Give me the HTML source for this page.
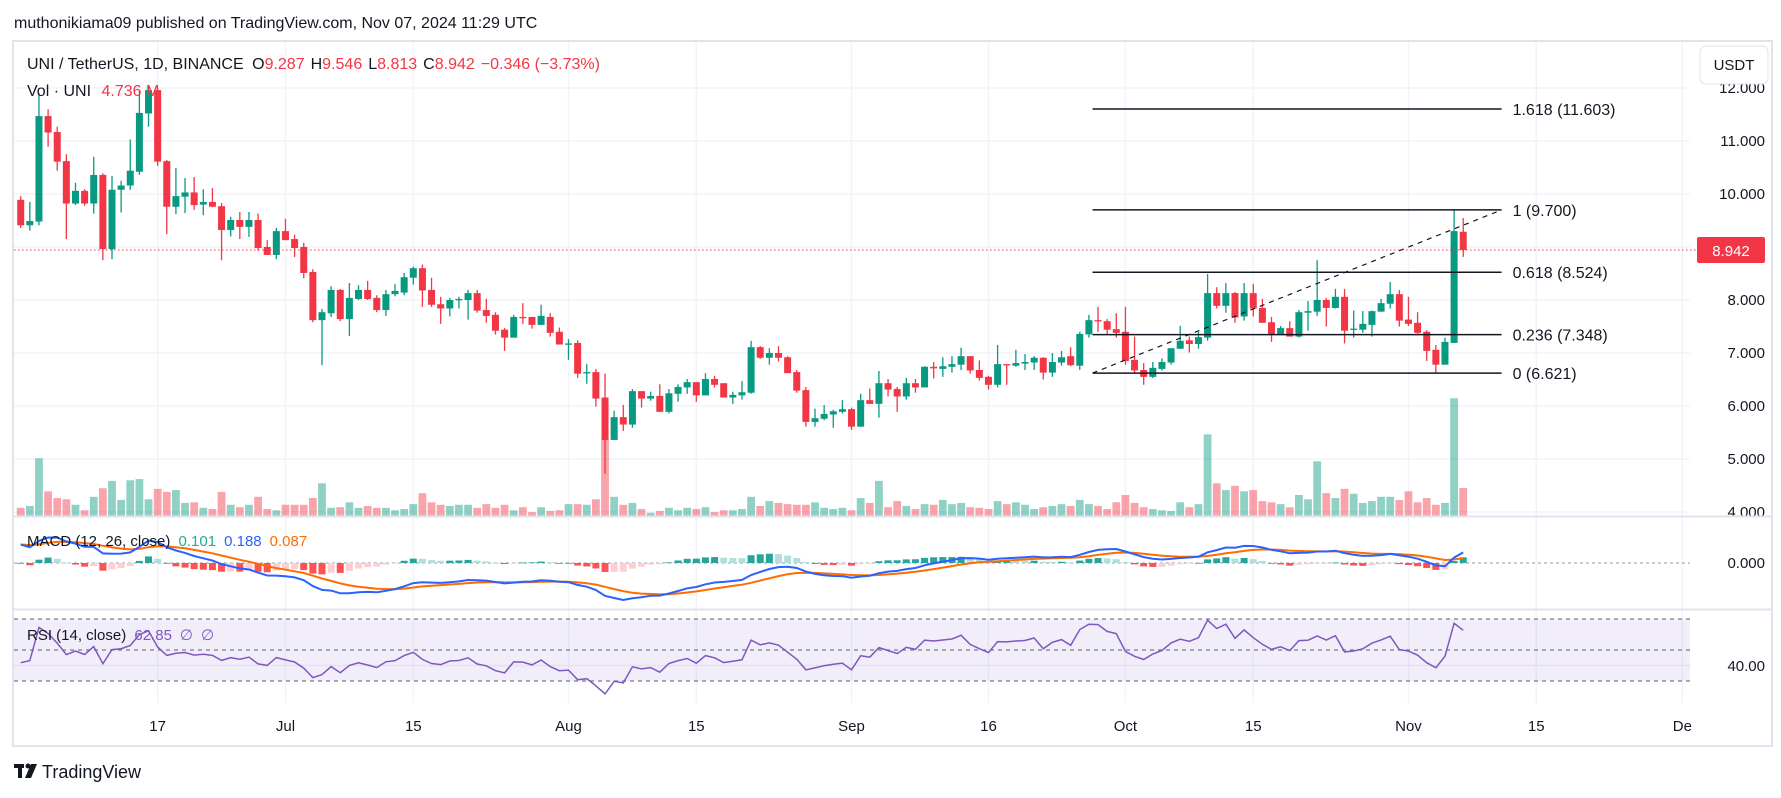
<!DOCTYPE html>
<html><head><meta charset="utf-8"><title>UNI/USDT chart</title>
<style>
html,body{margin:0;padding:0;background:#fff;}
svg{display:block;font-family:"Liberation Sans",sans-serif;}
</style></head>
<body>
<svg id="chart" width="1781" height="798" viewBox="0 0 1781 798" xmlns="http://www.w3.org/2000/svg">
  <rect x="0" y="0" width="1781" height="798" fill="#ffffff"/>
  <text x="14" y="28" font-size="16" fill="#131722">muthonikiama09 published on TradingView.com, Nov 07, 2024 11:29 UTC</text>
  <rect x="13" y="41" width="1759" height="705" fill="none" stroke="#e0e3eb" stroke-width="2"/>
  <g id="grid"></g>
  <g id="volume"></g>
  <g id="candles"></g>
  <g id="fib"></g>
  <g id="macd"></g>
  <g id="rsi"></g>
  <g id="axes"></g>
  <line x1="14" y1="516.5" x2="1771" y2="516.5" stroke="#e0e3eb" stroke-width="2"/>
  <line x1="14" y1="609.5" x2="1771" y2="609.5" stroke="#e0e3eb" stroke-width="2"/>
  <line x1="14" y1="250" x2="1697" y2="250" stroke="#F23645" stroke-width="1" stroke-dasharray="1.5,2.5"/>
  <rect x="1697" y="237" width="68" height="26" rx="2" fill="#F23645"/>
  <text x="1731" y="256" font-size="15" fill="#fff" text-anchor="middle">8.942</text>
  <rect x="1700" y="46" width="68" height="38" rx="6" fill="#fff" stroke="#e0e3eb"/>
  <text x="1734" y="70" font-size="15" fill="#131722" text-anchor="middle">USDT</text>
  <text x="27" y="69" font-size="16" fill="#131722">UNI / TetherUS, 1D, BINANCE <tspan dx="4">O</tspan><tspan fill="#F23645">9.287</tspan><tspan dx="6">H</tspan><tspan fill="#F23645">9.546</tspan><tspan dx="6">L</tspan><tspan fill="#F23645">8.813</tspan><tspan dx="6">C</tspan><tspan fill="#F23645">8.942</tspan><tspan dx="6" fill="#F23645">−0.346 (−3.73%)</tspan></text>
  <text x="27" y="96" font-size="16" fill="#131722">Vol · UNI <tspan dx="6" fill="#F23645">4.736 M</tspan></text>
  <text x="27" y="546" font-size="15" fill="#131722">MACD (12, 26, close) <tspan dx="4" fill="#22AB94">0.101</tspan><tspan dx="8" fill="#2962FF">0.188</tspan><tspan dx="8" fill="#FF6D00">0.087</tspan></text>
  <text x="27" y="640" font-size="15" fill="#131722">RSI (14, close) <tspan dx="4" fill="#7E57C2">62.85</tspan><tspan dx="8" fill="#7E57C2">∅</tspan><tspan dx="8" fill="#7E57C2">∅</tspan></text>
  <g>
    <rect x="14" y="764" width="10" height="4" fill="#131722"/>
    <rect x="18" y="764" width="4" height="14" fill="#131722"/>
    <circle cx="28" cy="766" r="2.5" fill="#131722"/>
    <polygon points="31,764 37,764 31,778 25,778" fill="#131722"/>
    <text x="42" y="778" font-size="18" fill="#131722">TradingView</text>
  </g>
</svg>
<script>
// ---- data ----
const startDate = "2024-06-02";
const opens = [9.89,9.41,9.48,11.47,11.17,10.62,9.82,10.06,9.82,10.36,8.96,10.08,10.16,10.42,11.52,11.96,10.62,9.76,9.95,10.03,9.80,9.85,9.77,9.32,9.51,9.38,9.51,9.00,8.85,9.30,9.15,9.00,8.53,7.62,7.75,8.19,7.64,8.02,8.19,8.04,7.81,8.11,8.14,8.42,8.60,8.19,7.92,7.84,8.00,8.00,8.13,7.81,7.72,7.44,7.29,7.68,7.68,7.53,7.68,7.40,7.18,7.19,6.63,6.64,6.16,5.36,5.79,5.65,6.28,6.14,6.19,5.89,6.23,6.35,6.45,6.20,6.51,6.43,6.16,6.20,6.25,7.11,6.91,7.00,6.92,6.64,6.30,5.70,5.76,5.84,5.89,5.94,5.61,6.11,6.04,6.43,6.32,6.18,6.43,6.35,6.74,6.70,6.74,6.78,6.94,6.68,6.55,6.40,6.79,6.76,6.80,6.82,6.91,6.63,6.82,6.94,6.76,7.35,7.62,7.60,7.45,7.40,6.87,6.68,6.55,6.70,6.82,7.08,7.24,7.17,7.29,8.13,7.89,8.13,7.69,8.13,7.85,7.58,7.35,7.47,7.31,7.76,7.78,8.00,7.85,8.06,7.45,7.44,7.53,7.78,7.93,8.11,7.63,7.57,7.40,7.06,6.78,7.19,9.287];
const highs = [9.96,9.85,11.9,11.6,11.27,10.75,10.21,10.09,10.7,10.39,10.34,10.25,11.03,11.96,12.05,12.0,10.64,10.49,10.3,10.32,10.09,10.11,9.83,9.57,9.66,9.66,9.63,9.13,9.36,9.53,9.23,9.08,8.58,7.83,8.26,8.21,8.32,8.28,8.36,8.09,8.19,8.30,8.51,8.63,8.67,8.42,8.06,8.04,8.06,8.19,8.19,8.02,7.77,7.47,7.72,7.94,7.68,7.91,7.75,7.48,7.26,7.24,6.79,6.70,6.61,5.91,6.02,6.32,6.28,6.27,6.41,6.32,6.41,6.51,6.45,6.62,6.57,6.43,6.27,6.47,7.23,7.13,7.09,7.13,6.94,6.68,6.36,5.95,6.02,5.93,6.11,5.97,6.23,6.33,6.66,6.51,6.36,6.53,6.51,6.75,6.83,6.92,6.94,7.10,6.94,6.86,6.57,7.15,6.79,7.06,6.98,6.94,6.92,7.00,7.04,7.11,7.40,7.72,7.87,7.64,7.75,7.87,7.31,6.81,6.83,6.90,7.09,7.51,7.31,7.40,8.49,8.24,8.32,8.15,8.32,8.30,8.02,7.68,7.51,7.60,7.81,7.98,8.75,8.04,8.21,8.21,7.80,7.79,7.80,8.02,8.34,8.19,8.06,7.77,7.43,7.15,7.29,9.70,9.546];
const lows = [9.36,9.31,9.41,10.89,10.44,9.15,9.79,9.78,9.63,8.75,8.77,9.65,10.08,10.36,11.27,10.53,9.24,9.62,9.64,9.70,9.60,9.75,8.75,9.20,9.15,9.19,8.93,8.85,8.77,9.13,8.81,8.41,7.58,6.77,7.68,7.60,7.32,8.00,8.00,7.77,7.70,8.07,8.09,8.29,7.87,7.87,7.55,7.69,7.84,7.63,7.76,7.57,7.35,7.04,7.29,7.55,7.46,7.53,7.31,7.16,6.87,6.53,6.42,5.99,4.72,5.36,5.53,5.59,5.97,6.10,5.89,5.86,6.08,6.23,6.08,6.20,6.35,6.16,6.04,6.12,6.23,6.89,6.78,6.84,6.62,6.25,5.61,5.61,5.73,5.59,5.86,5.55,5.61,6.04,5.78,6.18,5.89,6.12,6.25,6.35,6.52,6.55,6.63,6.68,6.61,6.48,6.31,6.35,6.40,6.74,6.68,6.68,6.50,6.55,6.76,6.75,6.68,7.29,7.40,7.36,7.29,6.78,6.63,6.40,6.53,6.67,6.78,7.08,7.01,7.08,7.23,7.84,7.76,7.57,7.61,7.69,7.57,7.21,7.35,7.31,7.29,7.42,7.70,7.50,7.84,7.18,7.29,7.38,7.31,7.78,7.84,7.50,7.51,7.36,6.85,6.62,6.78,7.19,8.813];
const closes = [9.41,9.49,11.47,11.16,10.61,9.82,10.06,9.82,10.36,8.96,10.08,10.16,10.44,11.53,11.96,10.61,9.76,9.96,10.03,9.79,9.85,9.76,9.32,9.51,9.38,9.51,8.98,8.85,9.30,9.13,8.98,8.51,7.62,7.77,8.19,7.64,8.04,8.19,8.02,7.81,8.11,8.17,8.43,8.60,8.18,7.91,7.84,8.00,8.02,8.13,7.80,7.70,7.42,7.29,7.68,7.67,7.53,7.70,7.38,7.16,7.18,6.61,6.64,6.14,5.36,5.79,5.65,6.28,6.14,6.19,5.89,6.24,6.36,6.45,6.20,6.51,6.40,6.16,6.21,6.26,7.11,6.91,7.00,6.91,6.62,6.29,5.70,5.77,5.85,5.90,5.94,5.61,6.11,6.04,6.43,6.31,6.18,6.43,6.35,6.74,6.71,6.75,6.79,6.94,6.67,6.53,6.40,6.79,6.78,6.81,6.83,6.91,6.63,6.83,6.92,6.77,7.36,7.62,7.61,7.44,7.38,6.85,6.67,6.55,6.72,6.83,7.09,7.23,7.17,7.30,8.13,7.89,8.13,7.67,8.13,7.84,7.57,7.35,7.47,7.31,7.77,7.79,8.00,7.85,8.06,7.42,7.46,7.55,7.79,7.94,8.11,7.61,7.55,7.38,7.04,6.78,7.21,9.30,8.942];
const volumes = [1.5,1.8,9.6,4.2,3.1,2.9,2.0,1.1,3.3,4.7,5.9,2.8,6.0,6.2,2.9,4.6,4.1,4.4,2.3,2.4,1.5,1.3,4.1,2.0,1.6,2.0,3.3,1.3,1.1,2.0,2.0,2.0,3.1,5.5,1.5,1.6,2.4,1.5,1.8,1.5,1.5,1.1,1.3,2.1,3.9,2.4,2.0,1.8,2.0,2.0,1.5,2.1,1.5,2.0,1.1,1.6,0.8,1.6,1.0,1.1,2.1,2.1,2.0,2.9,12.7,3.3,2.0,2.3,1.3,0.7,1.0,1.5,1.1,1.5,1.3,1.6,0.8,1.1,1.1,1.3,3.3,1.8,2.6,2.3,2.1,2.0,2.0,2.4,1.5,1.3,1.5,1.1,3.1,2.3,5.9,1.6,2.6,1.8,1.3,2.1,2.0,2.8,2.1,2.3,1.6,1.5,1.3,2.6,2.1,2.4,2.0,1.3,1.6,1.8,2.1,1.8,2.8,2.1,1.8,1.3,2.4,3.6,2.3,1.6,1.3,1.1,1.0,2.4,1.6,2.1,13.5,5.5,4.4,5.1,4.2,4.4,2.6,2.4,2.1,1.6,3.6,2.9,9.1,3.9,3.1,4.6,3.8,2.3,2.6,3.3,3.3,2.8,4.2,2.4,3.1,2.0,2.3,19.4,4.736];
const priceTicks = [4,5,6,7,8,9,10,11,12];
const priceTickLabels = ["4.000","5.000","6.000","7.000","8.000","","10.000","11.000","12.000"];
const timeTickDays = [15,29,43,60,74,91,106,121,135,152,166,182];
const timeTickLabels = ["17","Jul","15","Aug","15","Sep","16","Oct","15","Nov","15","De"];
const fibLow = 6.621;
const fibHigh = 9.700;
const fibLevels = [1.618,1,0.618,0.236,0];
const fibAnchorStart = 117.4;
const fibAnchorEnd = 162.2;

// ---- scales ----
const NS = "http://www.w3.org/2000/svg";
const X0 = 20.7, DX = 9.13;
function xAt(i){ return X0 + i*DX; }
function yPrice(p){ return 194 + (10 - p)*53; }
const VOL_BASE = 517, VOL_PX = 6.12;
function yVol(v){ return VOL_BASE - v*VOL_PX; }
function yRsi(r){ return 650 - (r-50)*1.55; }
function mk(tag, attrs, parent){
  const el = document.createElementNS(NS, tag);
  for (const k in attrs) el.setAttribute(k, attrs[k]);
  parent.appendChild(el);
  return el;
}
const gGrid = document.getElementById('grid');
const gVol = document.getElementById('volume');
const gC = document.getElementById('candles');
const gFib = document.getElementById('fib');
const gM = document.getElementById('macd');
const gR = document.getElementById('rsi');
const gAx = document.getElementById('axes');
const GREEN = "#089981", RED = "#F23645";

// grid
priceTicks.forEach((p, k) => {
  const y = yPrice(p);
  const ln = mk('line', {x1:14, y1:y, x2:1690, y2:y, stroke:"#f0f3fa", "stroke-width":1.5}, gGrid);
  
  
  if (priceTickLabels[k]) {
    const t = mk('text', {x:1765, y:y+5, "font-size":15, fill:"#131722", "text-anchor":"end"}, gAx);
    t.textContent = priceTickLabels[k];
    
    
  }
});
timeTickDays.forEach((d, k) => {
  const x = xAt(d);
  const ln = mk('line', {x1:x, y1:42, x2:x, y2:703, stroke:"#f0f3fa", "stroke-width":1.5}, gGrid);
  
  
  const t = mk('text', {x:Math.min(x, 1684), y:731, "font-size":15, fill:"#131722", "text-anchor":"middle"}, gAx);
  t.textContent = timeTickLabels[k];
  
  
});

// volume
volumes.forEach((v, i) => {
  const up = closes[i] >= opens[i];
  const y = yVol(v);
  const r = mk('rect', {x:xAt(i)-3.9, y:y, width:7.8, height:VOL_BASE-y, fill: up ? "rgba(8,153,129,0.45)" : "rgba(242,54,69,0.45)"}, gVol);
  
  
});

// candles
closes.forEach((c, i) => {
  const o = opens[i], h = highs[i], l = lows[i];
  const col = c >= o ? GREEN : RED;
  const x = xAt(i);
  const w = mk('line', {x1:x, y1:yPrice(h), x2:x, y2:yPrice(l), stroke:col, "stroke-width":1.3}, gC);
  
  
  const yt = yPrice(Math.max(o,c)), yb = yPrice(Math.min(o,c));
  const b = mk('rect', {x:x-3.5, y:yt, width:7, height:Math.max(1.3, yb-yt), fill:col}, gC);
  
  
});

// fibonacci
const fx1 = xAt(fibAnchorStart), fx2 = xAt(fibAnchorEnd);
fibLevels.forEach(lv => {
  const p = fibLow + (fibHigh - fibLow)*lv;
  const y = yPrice(p);
  const ln = mk('line', {x1:fx1, y1:y, x2:fx2, y2:y, stroke:"#131722", "stroke-width":1.5}, gFib);
  
  
  const t = mk('text', {x:fx2+11, y:y+6, "font-size":16, fill:"#131722"}, gFib);
  t.textContent = lv + " (" + p.toFixed(3) + ")";
  
  
});
const trend = mk('line', {x1:fx1, y1:yPrice(fibLow), x2:fx2, y2:yPrice(fibHigh), stroke:"#131722", "stroke-width":1.2, "stroke-dasharray":"5,5"}, gFib);



// MACD (12,26,9) from closes
let e12 = 9.9, e26 = 9.5, sig = 0.33;
const k12 = 2/13, k26 = 2/27, k9 = 2/10;
const macdVals = [], sigVals = [], histVals = [];
closes.forEach(c => {
  e12 = c*k12 + e12*(1-k12);
  e26 = c*k26 + e26*(1-k26);
  const m = e12 - e26;
  sig = m*k9 + sig*(1-k9);
  macdVals.push(m); sigVals.push(sig); histVals.push(m - sig);
});
const mMax = Math.max(...macdVals, ...sigVals), mMin = Math.min(...macdVals, ...sigVals);
const mPx = Math.min(38/Math.max(mMax,0.01), 37/Math.max(-mMin,0.01));
function yMacd(v){ return 563 - v*mPx; }
const zl = mk('line', {x1:14, y1:563, x2:1690, y2:563, stroke:"#9598a1", "stroke-width":1, "stroke-dasharray":"3,3"}, gM);


histVals.forEach((h, i) => {
  const prev = i > 0 ? histVals[i-1] : h;
  let col;
  if (h >= 0) col = h >= prev ? "#26A69A" : "#B2DFDB";
  else col = h >= prev ? "#FFCDD2" : "#FF5252";
  const y1 = yMacd(Math.max(h,0)), y2 = yMacd(Math.min(h,0));
  const r = mk('rect', {x:xAt(i)-3.5, y:y1, width:7, height:Math.max(0.8, y2-y1), fill:col}, gM);
  
  
});
const mPts = macdVals.map((v,i)=>xAt(i).toFixed(1)+","+yMacd(v).toFixed(1)).join(" ");
const sPts = sigVals.map((v,i)=>xAt(i).toFixed(1)+","+yMacd(v).toFixed(1)).join(" ");
const sl = mk('polyline', {points:sPts, fill:"none", stroke:"#FF6D00", "stroke-width":2}, gM);


const ml = mk('polyline', {points:mPts, fill:"none", stroke:"#2962FF", "stroke-width":2}, gM);


const mlab = mk('text', {x:1765, y:568, "font-size":15, fill:"#131722", "text-anchor":"end"}, gAx);
mlab.textContent = "0.000";



// RSI(14)
let ag = 0.12, al = 0.13;
const rsiVals = [];
closes.forEach((c, i) => {
  const prev = i > 0 ? closes[i-1] : opens[0];
  const d = c - prev;
  ag = (ag*13 + Math.max(d,0))/14;
  al = (al*13 + Math.max(-d,0))/14;
  rsiVals.push(100 - 100/(1 + ag/al));
});
const bg = mk('rect', {x:14, y:yRsi(70), width:1676, height:yRsi(30)-yRsi(70), fill:"rgba(126,87,194,0.1)"}, gR);


[70,50,30].forEach(v => {
  const l = mk('line', {x1:14, y1:yRsi(v), x2:1690, y2:yRsi(v), stroke:"#787B86", "stroke-width":1.2, "stroke-dasharray":"4,4"}, gR);
  
  
});
const r40 = mk('line', {x1:14, y1:yRsi(40), x2:1690, y2:yRsi(40), stroke:"#e6e0f2", "stroke-width":1.5}, gR);


const rPts = rsiVals.map((v,i)=>xAt(i).toFixed(1)+","+yRsi(v).toFixed(1)).join(" ");
const rl = mk('polyline', {points:rPts, fill:"none", stroke:"#7E57C2", "stroke-width":1.5}, gR);


const rlab = mk('text', {x:1765, y:671, "font-size":15, fill:"#131722", "text-anchor":"end"}, gAx);
rlab.textContent = "40.00";


</script>
</body></html>
